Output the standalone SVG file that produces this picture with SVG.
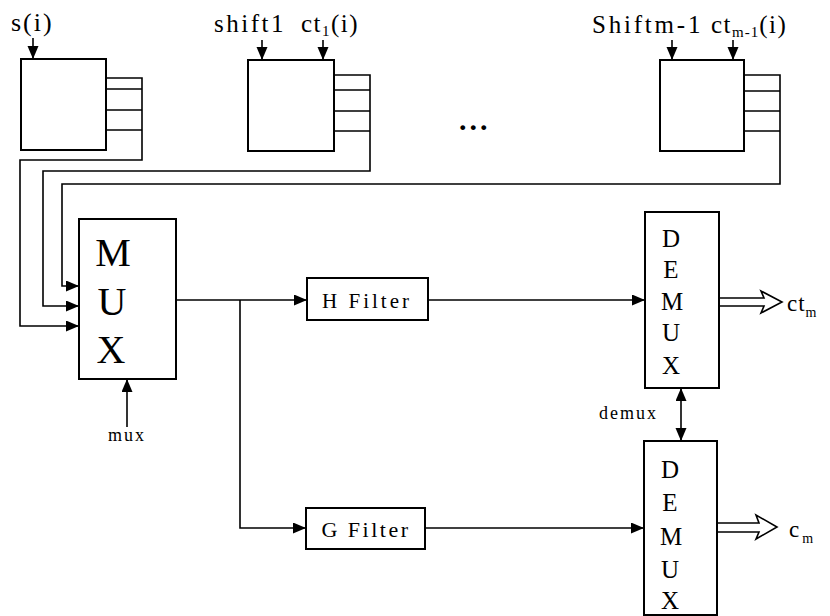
<svg xmlns="http://www.w3.org/2000/svg" width="830" height="616" viewBox="0 0 830 616">
<style>
.box{fill:#fff;stroke:#000;stroke-width:2}
.ln{fill:none;stroke:#000;stroke-width:1.6}
.arr{fill:none;stroke:#000;stroke-width:1.6;marker-end:url(#ah)}
.t{font-family:"Liberation Serif","Times New Roman",serif;fill:#000}
.hol{fill:#fff;stroke:#000;stroke-width:1.6;stroke-linejoin:miter}
</style>
<defs>
<marker id="ah" markerUnits="userSpaceOnUse" markerWidth="14" markerHeight="12" refX="13" refY="5.5" orient="auto-start-reverse" viewBox="0 0 14 12">
<path d="M0,0 L13,5.5 L0,11 z" fill="#000"/>
</marker>
</defs>
<rect width="830" height="616" fill="#fff"/>

<g id="connectors">
<line class="arr" x1="33" y1="38" x2="33" y2="59"/>
<line class="arr" x1="262" y1="40" x2="262" y2="60"/>
<line class="arr" x1="323" y1="40" x2="323" y2="60"/>
<line class="arr" x1="672" y1="40" x2="672" y2="60"/>
<line class="arr" x1="733" y1="40" x2="733" y2="60"/>
<polyline class="arr" points="142,130 142,160 20,160 20,326 79,326"/>
<polyline class="arr" points="370,131 370,171 43,171 43,306 79,306"/>
<polyline class="arr" points="780,131 780,184 62,184 62,286 79,286"/>
<line class="arr" x1="127" y1="427" x2="127" y2="379"/>
<line class="arr" x1="176" y1="300" x2="307" y2="300"/>
<polyline class="arr" points="240,300 240,528 306,528"/>
<line class="arr" x1="428" y1="300" x2="645" y2="300"/>
<line class="arr" x1="425" y1="528" x2="644" y2="528"/>
<line class="arr" x1="681" y1="388" x2="681" y2="441" style="marker-start:url(#ah)"/>
<polygon class="hol" points="719,298 764,298 761,291 782,302 761,313 764,306 719,306"/>
<polygon class="hol" points="717,523 759,523 756,515 777,527 756,539 759,532 717,532"/>
</g>

<g id="reg0">
<rect class="box" x="21" y="59" width="85" height="91"/>
<path class="ln" d="M106,78 H142 V130 M106,89 H142 M106,110 H142 M106,130 H142"/>
<text class="t" x="11" y="31" font-size="26" letter-spacing="2">s(i)</text>
</g>

<g id="reg1">
<rect class="box" x="248" y="60" width="86" height="91"/>
<path class="ln" d="M334,75 H370 V131 M334,90 H370 M334,111 H370 M334,131 H370"/>
<text class="t" x="214" y="32" font-size="25" letter-spacing="2.5">shift1</text>
<text class="t" x="301" y="32" font-size="25" letter-spacing="1.5">ct<tspan font-size="15" dy="4">1</tspan><tspan dy="-4">(i)</tspan></text>
</g>

<g id="dots">
<text class="t" x="459" y="130" font-size="30" font-weight="bold" letter-spacing="3">...</text>
</g>

<g id="regm1">
<rect class="box" x="660" y="60" width="84" height="91"/>
<path class="ln" d="M744,75 H780 V131 M744,91 H780 M744,111 H780 M744,131 H780"/>
<text class="t" x="592" y="33" font-size="25" letter-spacing="2.8">Shiftm-1</text>
<text class="t" x="711" y="33" font-size="25" letter-spacing="1.5">ct<tspan font-size="15" dy="4" letter-spacing="1">m-1</tspan><tspan dy="-4">(i)</tspan></text>
</g>

<g id="mux">
<rect class="box" x="79" y="219" width="97" height="160"/>
<text class="t" x="113" y="266" font-size="40" text-anchor="middle">M</text>
<text class="t" x="112" y="315" font-size="40" text-anchor="middle">U</text>
<text class="t" x="111" y="363" font-size="40" text-anchor="middle">X</text>
<text class="t" x="127" y="441" font-size="18" letter-spacing="2" text-anchor="middle">mux</text>
</g>

<g id="hfilter">
<rect class="box" x="307" y="278" width="121" height="42"/>
<text class="t" x="367" y="308" font-size="21" letter-spacing="3" text-anchor="middle">H Filter</text>
</g>

<g id="gfilter">
<rect class="box" x="306" y="508" width="119" height="41"/>
<text class="t" x="366" y="537" font-size="22" letter-spacing="2.5" text-anchor="middle">G Filter</text>
</g>

<g id="demux1">
<rect class="box" x="645" y="212" width="74" height="176"/>
<g class="t" font-size="25" text-anchor="middle">
<text x="671" y="247">D</text>
<text x="671" y="278">E</text>
<text x="672" y="310">M</text>
<text x="671" y="341">U</text>
<text x="671" y="374">X</text>
</g>
<text class="t" x="787" y="311" font-size="23" letter-spacing="1">ct<tspan font-size="14" dy="6">m</tspan></text>
</g>

<g id="demux2">
<rect class="box" x="644" y="441" width="73" height="174"/>
<g class="t" font-size="25" text-anchor="middle">
<text x="670" y="478">D</text>
<text x="670" y="511">E</text>
<text x="671" y="545">M</text>
<text x="670" y="578">U</text>
<text x="670" y="609">X</text>
</g>
<text class="t" x="789" y="537" font-size="23" letter-spacing="3">c<tspan font-size="14" dy="6">m</tspan></text>
<text class="t" x="599" y="419" font-size="18" letter-spacing="2">demux</text>
</g>
</svg>
